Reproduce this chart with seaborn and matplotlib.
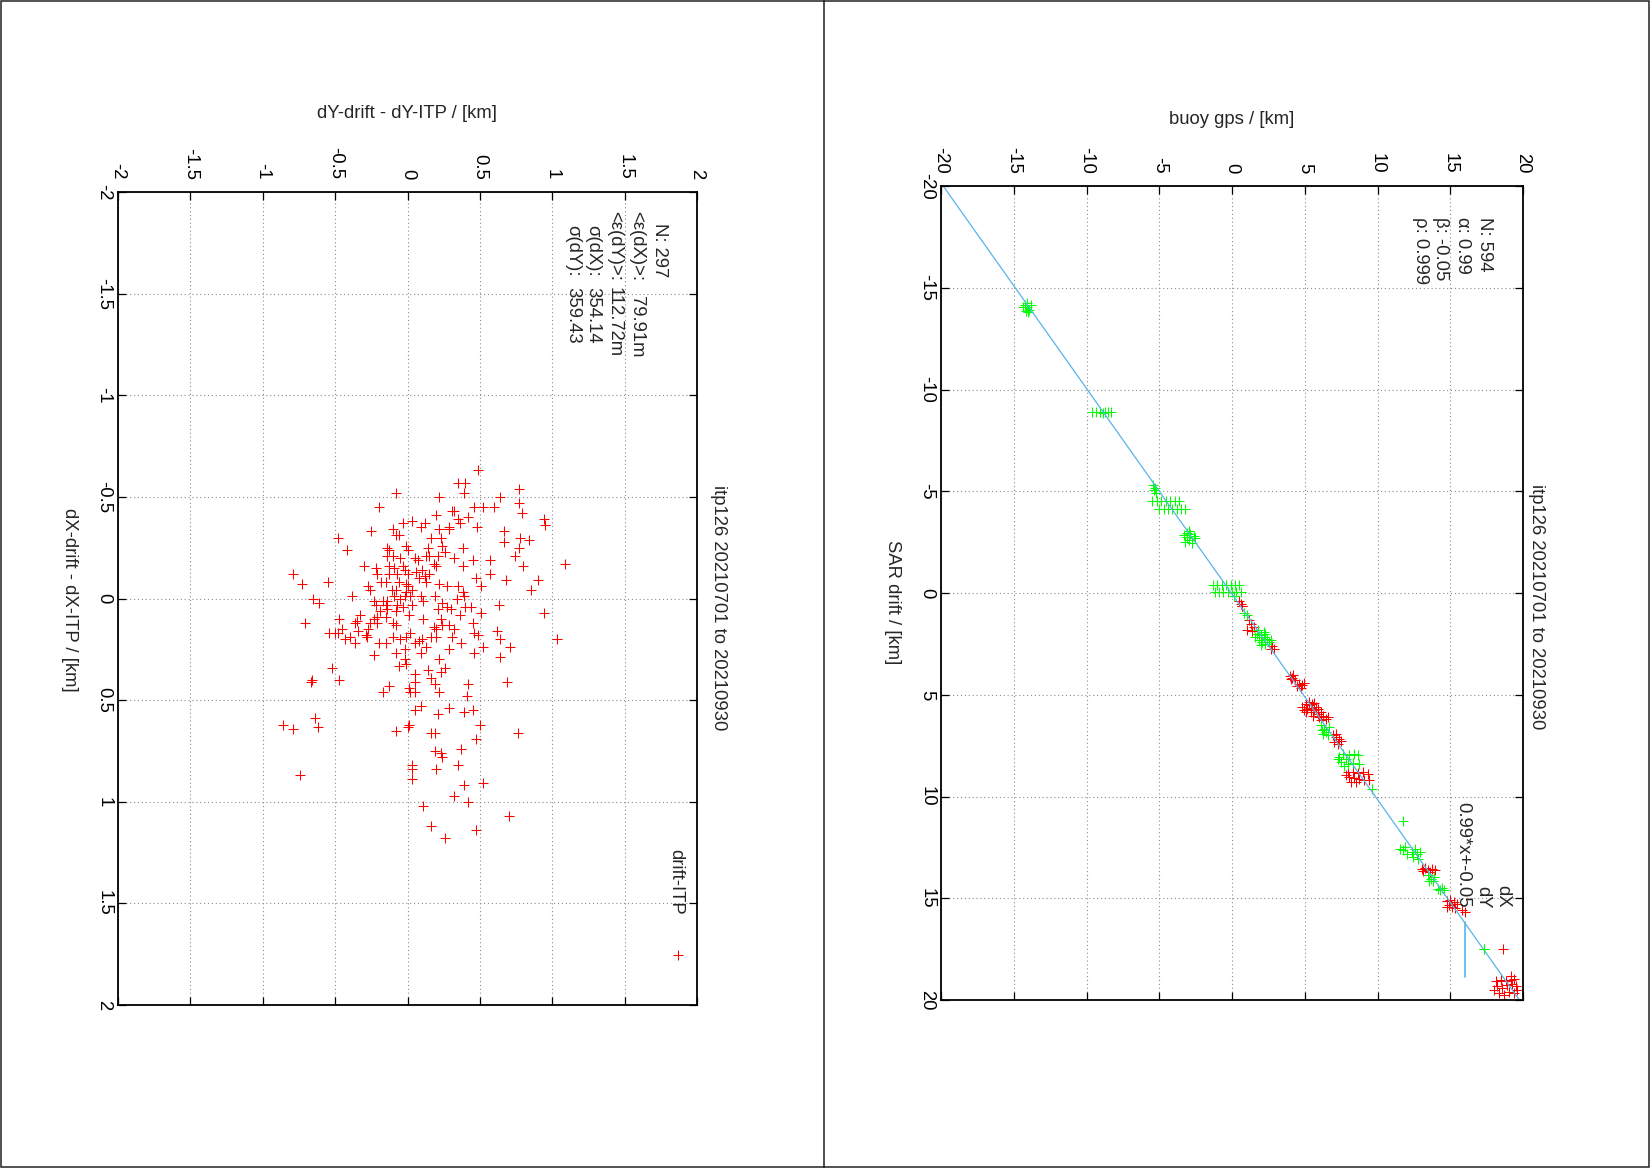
import matplotlib
matplotlib.use("Agg")
import matplotlib.pyplot as plt
from matplotlib.lines import Line2D
from matplotlib.patches import Rectangle
import numpy as np
import pandas as pd
import seaborn as sns

# ---------------------------------------------------------------- data
title = "itp126 20210701 to 20210930"

# left panel: drift - ITP residuals [km]
err_dy = [
    -0.08, -0.20, -0.03, 0.03, 0.09, 0.12, -0.25, -0.48, -0.42, -0.10,
    -0.08, -0.06, -0.14, -0.13, -0.01, 0.00, 0.14, -0.14, -0.10, -0.05,
    0.05, 0.07, 0.13, -0.30, -0.22, -0.13, -0.09, -0.03, -0.02, -0.79,
    -0.21, -0.13, -0.07, 0.00, 0.06, 0.10, 0.12, -0.73, -0.55, -0.18,
    -0.15, -0.06, -0.01, 0.00, 0.08, 0.13, -0.27, -0.26, -0.11, -0.08,
    -0.01, 0.03, -0.38, -0.65, -0.61, -0.23, -0.17, -0.14, -0.09, -0.05,
    -0.02, 0.02, 0.09, 0.11, -0.22, -0.15, -0.07, 0.03, -0.19, -0.14,
    -0.08, -0.03, -0.33, -0.21, -0.15, 0.01, 0.11, -0.71, -0.47, -0.35,
    -0.36, -0.26, -0.23, -0.21, -0.10, -0.08, -0.45, -0.34, -0.27, -0.54,
    -0.50, -0.48, -0.29, -0.28, -0.43, -0.40, -0.36, -0.20, -0.15, -0.10,
    -0.05, -0.01, 0.02, 0.05, 0.08, 0.10, 0.13, -0.23, -0.08, -0.02,
    0.09, -0.06, -0.02, -0.01, -0.52, -0.66, -0.67, -0.47, 0.05, 0.05,
    0.14, -0.13, -0.17, 0.01, 0.02, 0.05, 0.09, 0.05, -0.86, -0.79,
    -0.64, -0.62, -0.08, 0.00, 0.01, -0.74, 0.03, 0.03, 0.03, 0.11,
    0.49, 0.35, 0.40, 0.39, 0.22, 0.64, 0.77, 0.77, 0.79, 0.20,
    0.31, 0.32, 0.42, 0.46, 0.52, 0.60, 0.35, 0.36, 0.29, 0.29,
    0.22, 0.23, 0.48, 0.67, 0.67, 0.94, 0.95, 0.16, 0.24, 0.26,
    0.38, 0.78, 0.84, 0.77, 0.15, 0.21, 0.32, 0.45, 0.57, 0.74,
    0.80, 0.18, 0.20, 0.38, 1.09, 0.15, 0.57, 0.47, 0.51, 0.68,
    0.90, 0.85, 0.22, 0.27, 0.35, 0.38, 0.39, 0.19, 0.34, 0.24,
    0.27, 0.30, 0.40, 0.44, 0.21, 0.51, 0.63, 0.94, 0.36, 0.23,
    0.24, 0.29, 0.32, 0.45, 0.18, 0.20, 0.16, 0.20, 0.31, 0.37,
    0.46, 0.49, 0.62, 0.64, 0.52, 0.71, 1.03, 0.29, 0.46, 0.64,
    0.22, 0.26, 0.23, 0.16, 0.19, 0.22, 0.42, 0.41, 0.69, 0.29,
    0.21, 0.39, 0.45, 0.50, 0.16, 0.19, 0.47, 0.76, 0.19, 0.23,
    0.24, 0.37, 0.20, 0.35, 0.39, 0.52, 0.32, 0.42, 0.70, 0.16,
    0.47, 0.26,
]
err_dx = [
    -0.52, -0.45, -0.37, -0.38, -0.35, -0.37, -0.33, -0.30, -0.24, -0.34,
    -0.31, -0.31, -0.25, -0.24, -0.26, -0.24, -0.25, -0.21, -0.21, -0.20,
    -0.20, -0.19, -0.21, -0.16, -0.15, -0.16, -0.15, -0.16, -0.14, -0.12,
    -0.12, -0.12, -0.12, -0.12, -0.13, -0.14, -0.11, -0.07, -0.08, -0.08,
    -0.08, -0.08, -0.07, -0.06, -0.10, -0.08, -0.06, -0.04, -0.04, -0.04,
    -0.03, -0.04, -0.01, 0.00, 0.02, 0.01, 0.01, 0.01, -0.01, 0.00,
    -0.01, -0.01, -0.01, 0.01, 0.03, 0.03, 0.03, 0.03, 0.06, 0.05,
    0.06, 0.04, 0.08, 0.09, 0.09, 0.08, 0.10, 0.12, 0.10, 0.11,
    0.12, 0.12, 0.10, 0.12, 0.12, 0.13, 0.15, 0.16, 0.15, 0.17,
    0.17, 0.17, 0.18, 0.19, 0.20, 0.19, 0.22, 0.22, 0.22, 0.19,
    0.20, 0.19, 0.17, 0.22, 0.21, 0.20, 0.24, 0.28, 0.27, 0.25,
    0.27, 0.33, 0.30, 0.32, 0.34, 0.40, 0.41, 0.40, 0.37, 0.41,
    0.35, 0.43, 0.46, 0.44, 0.46, 0.46, 0.53, 0.55, 0.62, 0.64,
    0.59, 0.63, 0.65, 0.63, 0.62, 0.87, 0.82, 0.84, 0.89, 1.02,
    -0.63, -0.57, -0.57, -0.52, -0.50, -0.50, -0.54, -0.47, -0.42, -0.41,
    -0.43, -0.43, -0.40, -0.45, -0.45, -0.45, -0.39, -0.37, -0.35, -0.34,
    -0.34, -0.30, -0.35, -0.33, -0.28, -0.39, -0.36, -0.30, -0.26, -0.23,
    -0.25, -0.30, -0.29, -0.25, -0.21, -0.21, -0.20, -0.19, -0.19, -0.21,
    -0.16, -0.17, -0.16, -0.16, -0.17, -0.12, -0.12, -0.10, -0.06, -0.09,
    -0.09, -0.04, -0.07, -0.06, -0.06, -0.03, -0.01, -0.01, 0.00, 0.02,
    0.04, 0.05, 0.04, 0.04, 0.05, 0.07, 0.03, 0.07, 0.08, 0.10,
    0.13, 0.13, 0.15, 0.12, 0.14, 0.15, 0.19, 0.19, 0.19, 0.22,
    0.17, 0.18, 0.16, 0.20, 0.24, 0.24, 0.20, 0.25, 0.27, 0.29,
    0.30, 0.34, 0.36, 0.39, 0.42, 0.46, 0.42, 0.48, 0.41, 0.54,
    0.57, 0.56, 0.55, 0.62, 0.66, 0.66, 0.69, 0.66, 0.75, 0.76,
    0.78, 0.74, 0.84, 0.82, 0.92, 0.91, 0.97, 1.00, 1.07, 1.12,
    1.14, 1.18,
]

# right panel: SAR drift vs buoy gps [km], dX (red) and dY (green)
gps_dx = [
    0.48, 0.60, 0.71, 0.69,
    1.15, 1.34, 1.04, 1.38, 1.50,
    2.65, 2.88, 2.76,
    3.96, 4.15, 4.33, 4.03, 4.19,
    4.61, 4.84, 4.72, 4.95, 4.49,
    4.84, 5.07, 5.30, 5.53, 5.76, 4.95, 5.18, 5.41, 5.65, 5.88, 6.11,
    5.30, 5.65, 5.58, 5.99, 6.22, 6.45, 6.57, 6.11, 5.07, 5.41, 5.88,
    6.91, 7.14, 7.37, 7.03, 7.26, 7.49, 7.14,
    7.95, 8.29, 8.64, 8.99, 9.33, 8.06, 8.41, 8.76, 9.10, 9.45, 8.18, 8.53, 7.83,
    13.04, 13.27, 13.50, 13.73, 13.96, 13.16, 13.62,
    14.77, 15.00, 15.23, 14.88, 15.12, 15.46, 15.35, 15.81, 16.04, 14.77,
    18.11, 18.46, 18.80, 19.15, 19.38, 18.23, 18.57, 18.92, 19.26, 19.49,
    18.34, 18.69, 19.03, 19.38, 18.00, 19.61, 19.15,
]
sar_dx = [
    0.41, 0.52, 0.62, 0.66,
    1.34, 1.51, 1.80, 1.87, 1.67,
    2.74, 2.77, 2.62,
    4.10, 4.16, 4.26, 4.21, 4.05,
    4.46, 4.54, 4.66, 4.43, 4.59,
    5.61, 5.44, 5.52, 5.44, 5.61, 5.77, 5.69, 5.85, 5.77, 5.93, 5.85,
    5.36, 5.40, 6.02, 6.10, 6.02, 6.18, 6.10, 6.26, 5.85, 5.64, 5.69,
    7.00, 7.08, 7.16, 7.33, 7.41, 7.28, 6.92,
    8.80, 8.80, 8.85, 8.80, 8.89, 9.05, 9.08, 9.13, 9.18, 9.21, 9.30, 9.30, 8.92,
    13.55, 13.50, 13.60, 13.55, 13.63, 13.66, 13.71,
    15.13, 15.07, 15.18, 15.34, 15.42, 15.29, 15.50, 15.59, 15.67, 15.42,
    19.09, 19.01, 19.09, 19.01, 18.97, 19.33, 19.41, 19.25, 19.20, 19.33,
    19.66, 19.74, 19.63, 19.66, 19.50, 19.50, 18.84,
]
gps_dy = [
    -14.38, -14.08, -14.08, -13.92, -14.15, -13.80, -14.26, -14.03,
    -9.60, -9.35, -9.10, -8.90, -8.70, -8.50, -8.30,
    -5.32, -5.46, -5.23, -5.39,
    -5.50, -5.15, -4.85, -4.55, -4.25, -3.95, -3.65,
    -5.00, -4.70, -4.40, -4.10, -3.80, -3.50, -3.20,
    -3.32, -3.09, -2.86, -2.63, -2.97, -3.20, -2.74, -2.51, -2.93, -3.09,
    -1.30, -1.00, -0.70, -0.40, -0.10, 0.20, 0.50,
    -1.20, -0.90, -0.60, -0.30, 0.00, 0.30, 0.60,
    0.14, 0.85, 1.04,
    1.73, 1.96, 2.19, 2.42, 1.84, 2.07, 2.30, 2.53, 1.61, 1.96, 2.19, 2.65, 1.80, 2.30,
    6.11, 6.34, 6.22, 6.45, 6.57, 6.68, 6.18,
    7.37, 7.60, 7.83, 8.06, 8.41, 8.64, 7.49, 7.72, 7.95, 8.29, 8.76, 7.26,
    9.63, 11.75,
    11.54, 11.77, 11.89, 12.35, 12.58, 12.70, 12.93, 12.47, 12.81, 12.00,
    13.50, 13.66, 13.85, 13.57, 13.80,
    14.19, 14.42, 14.31, 14.54,
    17.35,
]
sar_dy = [
    -14.05, -14.25, -14.05, -13.92, -13.86, -14.13, -14.13, -13.81,
    -8.87, -8.87, -8.88, -8.86, -8.87, -8.88, -8.87,
    -5.15, -5.31, -4.93, -5.07,
    -4.54, -4.54, -4.54, -4.54, -4.54, -4.54, -4.54,
    -4.13, -4.13, -4.13, -4.13, -4.13, -4.13, -4.13,
    -2.86, -2.97, -2.91, -2.78, -2.61, -2.53, -2.48, -2.70, -3.07, -2.75,
    -0.40, -0.40, -0.40, -0.40, -0.40, -0.40, -0.40,
    -0.05, -0.05, -0.05, -0.05, -0.05, -0.05, -0.05,
    0.16, 0.98, 1.10,
    2.00, 2.08, 2.16, 2.25, 2.33, 2.41, 2.49, 2.41, 2.16, 2.57, 1.92, 2.33, 1.84, 2.03,
    6.51, 6.67, 6.92, 6.84, 7.00, 6.59, 6.75,
    8.07, 7.90, 8.15, 7.98, 7.90, 7.98, 8.31, 8.48, 8.39, 8.36, 8.39, 8.15,
    9.62, 11.18,
    12.57, 12.65, 12.49, 12.74, 12.57, 12.82, 12.74, 12.95, 13.06, 12.85,
    13.88, 14.04, 13.96, 14.15, 14.17,
    14.53, 14.48, 14.61, 14.58,
    17.49,
]

# fit / statistics as printed on the plots
fit_alpha = 0.99
fit_beta = -0.05
fit_rho = 0.999
n_fit = 594
n_err = 297
mean_err_dx = 79.91
mean_err_dy = 112.72
std_err_dx = 354.14
std_err_dy = 359.43

fit_ticks = [-20, -15, -10, -5, 0, 5, 10, 15, 20]
fit_ticklabels = ["-20", "-15", "-10", "-5", "0", "5", "10", "15", "20"]
err_ticks = [-2, -1.5, -1, -0.5, 0, 0.5, 1, 1.5, 2]
err_ticklabels = ["-2", "-1.5", "-1", "-0.5", "0", "0.5", "1", "1.5", "2"]

# ---------------------------------------------------------------- style
sns.set_theme(style="white")
plt.rcParams["font.family"] = ["Liberation Sans", "DejaVu Sans"]
plt.rcParams["axes.unicode_minus"] = False

W, H = 1650, 1168
FS = 13.3
RED = "#ff0000"
GREEN = "#00ff00"
FIT_COLOR = "#56b4e9"
MS = 42


def fx(x):
    return x / W


def fy(y):
    return 1 - y / H


def rtext(fig, x, y, s, **kwargs):
    '''Text turned like the rest of the page (reads top to bottom)'''
    fig.text(fx(x), fy(y), s, rotation=-90, fontsize=FS, **kwargs)


def style_panel(ax, lim, ticks, ticklabels):
    '''Page is turned: horizontal = original y axis, vertical = original x axis'''
    ax.set_xlim(lim[0], lim[1])
    ax.set_ylim(lim[1], lim[0])
    ax.set_xticks(ticks)
    ax.set_yticks(ticks)
    ax.set_xticklabels(ticklabels)
    ax.set_yticklabels(ticklabels, va="center")
    ax.xaxis.tick_top()
    ax.tick_params(axis="both", direction="in", length=6, width=0.9, colors="black",
                   top=True, bottom=True, left=True, right=True, labelsize=FS,
                   labelrotation=-90)
    ax.tick_params(axis="x", labeltop=True, labelbottom=False, pad=9)
    ax.tick_params(axis="y", labelleft=True, labelright=False, pad=4)
    ax.grid(True, color="#8c8c8c", linestyle=(0, (1, 2.5)), linewidth=0.8)
    ax.set_axisbelow(True)
    for sp in ax.spines.values():
        sp.set_linewidth(1.3)
        sp.set_color("black")
    ax.set_xlabel("")
    ax.set_ylabel("")


def plus_sample(fig, x, y, color):
    fig.add_artist(Line2D([fx(x)], [fy(y)], marker="+", markersize=np.sqrt(MS),
                          markeredgewidth=0.75, color=color, linestyle="none"))


fig = plt.figure(figsize=(W / 100, H / 100), dpi=100)
fig.patch.set_facecolor("white")

# page frame
fig.add_artist(Rectangle((fx(0.8), fy(1167.2)), fx(1648.5) - fx(0.8), fy(0.8) - fy(1167.2),
                         fill=False, edgecolor="#222222", linewidth=1.1,
                         transform=fig.transFigure))
fig.add_artist(Line2D([fx(824), fx(824)], [fy(0), fy(1168)], color="#222222", linewidth=1.1))

# ---------------------------------------------------------------- left panel
ax_err = fig.add_axes([fx(118), fy(1005), fx(697) - fx(118), fy(192) - fy(1005)])
df_err = pd.DataFrame({"dx": err_dx, "dy": err_dy})
sns.scatterplot(data=df_err, x="dy", y="dx", marker="+", s=MS, color=RED,
                linewidth=0.75, ax=ax_err, legend=False)
style_panel(ax_err, (-2, 2), err_ticks, err_ticklabels)

fig.text(fx(407), fy(113), "dY-drift - dY-ITP / [km]", fontsize=FS, ha="center", va="center")
rtext(fig, 69, 600, "dX-drift - dX-ITP / [km]", ha="center", va="center")
rtext(fig, 719, 608, title, ha="center", va="center")

rtext(fig, 659.5, 223, f"N: {n_err}", ha="center", va="top")
err_stats = [
    ("<ε(dX)>:", f"{mean_err_dx:.2f}m", 636.5, 211, 296),
    ("<ε(dY)>:", f"{mean_err_dy:.2f}m", 614.5, 211, 287),
    ("σ(dX):", f"{std_err_dx:.2f}", 593, 225, 287),
    ("σ(dY):", f"{std_err_dy:.2f}", 573, 225, 287),
]
for lab, val, x, y_lab, y_val in err_stats:
    rtext(fig, x, y_lab, lab, ha="center", va="top")
    rtext(fig, x, y_val, val, ha="center", va="top")

rtext(fig, 676, 915, "drift-ITP", ha="center", va="bottom")
plus_sample(fig, 678, 955, RED)

# ---------------------------------------------------------------- right panel
ax_fit = fig.add_axes([fx(941), fy(1000), fx(1523) - fx(941), fy(186) - fy(1000)])
df_dx = pd.DataFrame({"sar": sar_dx, "gps": gps_dx})
df_dy = pd.DataFrame({"sar": sar_dy, "gps": gps_dy})
sns.scatterplot(data=df_dx, x="gps", y="sar", marker="+", s=MS, color=RED,
                linewidth=0.75, ax=ax_fit, legend=False)
sns.scatterplot(data=df_dy, x="gps", y="sar", marker="+", s=MS, color=GREEN,
                linewidth=0.75, ax=ax_fit, legend=False)
sar_line = np.array([-20.0, 20.0])
sns.lineplot(x=fit_alpha * sar_line + fit_beta, y=sar_line, sort=False,
             color=FIT_COLOR, linewidth=0.9, ax=ax_fit, legend=False)
style_panel(ax_fit, (-20, 20), fit_ticks, fit_ticklabels)

fig.text(fx(1232), fy(119), "buoy gps / [km]", fontsize=FS, ha="center", va="center")
rtext(fig, 892, 602, "SAR drift / [km]", ha="center", va="center")
rtext(fig, 1536, 607, title, ha="center", va="center")

fit_stats = [f"N: {n_fit}", f"α: {fit_alpha:g}", f"β: {fit_beta:g}", f"ρ: {fit_rho:g}"]
for s, x in zip(fit_stats, [1485, 1463, 1440, 1420]):
    rtext(fig, x, 217, s, ha="center", va="top")

fit_label = f"{fit_alpha:g}*x+{fit_beta:g}"
rtext(fig, 1503, 908, "dX", ha="center", va="bottom")
rtext(fig, 1483, 908, "dY", ha="center", va="bottom")
rtext(fig, 1463, 908, fit_label, ha="center", va="bottom")
plus_sample(fig, 1503, 949, RED)
plus_sample(fig, 1484, 949, GREEN)
fig.add_artist(Line2D([fx(1465), fx(1465)], [fy(922), fy(977)], color=FIT_COLOR, linewidth=1.2))

fig.savefig("out.png", dpi=100, facecolor="white")
